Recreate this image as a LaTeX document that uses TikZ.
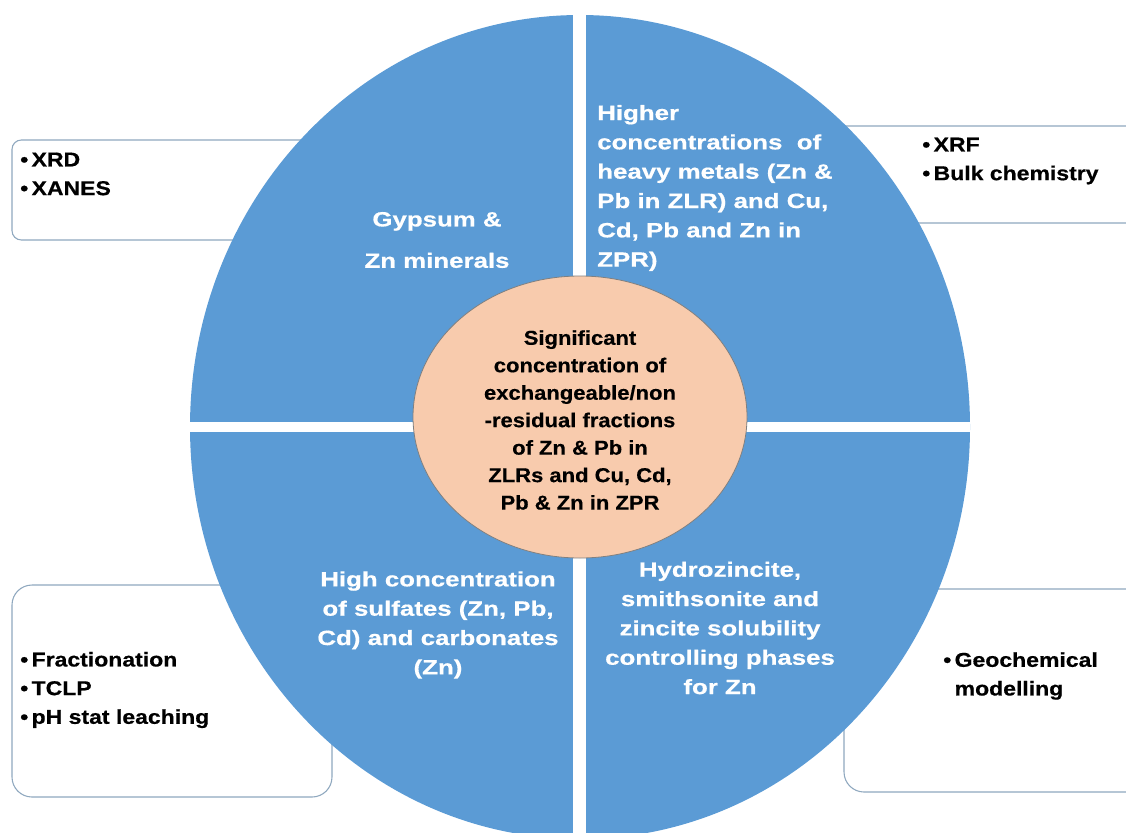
\documentclass[tikz,border=0pt]{standalone}
\usepackage{fontspec}
\setmainfont{Liberation Sans}
\newfontfamily\quadfont{Liberation Sans}[FakeStretch=1.25,FakeBold=0.6]
\newfontfamily\corefont{Liberation Sans}[FakeStretch=1.1,FakeBold=0.4]
\newfontfamily\toolfont{Liberation Sans}[FakeStretch=1.15,FakeBold=0.6]
\definecolor{disc}{HTML}{5B9BD5}
\definecolor{core}{HTML}{F8CBAD}
\definecolor{frame}{HTML}{8FA8BF}

\begin{document}
\begin{tikzpicture}[x=0.75pt,y=-0.75pt,
    tool/.style={draw=frame,fill=white,line width=0.8pt},
    quad/.style={text=white,font=\quadfont\bfseries\fontsize{15.5}{22}\selectfont,inner sep=0pt},
    method/.style={font=\toolfont\bfseries\fontsize{15}{21.5}\selectfont,align=left,anchor=west,inner sep=0pt},
]
\useasboundingbox (0,0) rectangle (1126,832);
\clip (0,0) rectangle (1126,832);

% method boxes behind the disc
\draw[tool,rounded corners=7pt] (12,140) rectangle (400,240);
\draw[tool,rounded corners=7pt] (760,126) rectangle (1150,223);
\draw[tool,rounded corners=15pt] (12,585) rectangle (332,797);
\draw[tool,rounded corners=15pt] (844,589) rectangle (1150,792);

% disc cut in four
\begin{scope}
\clip (580,427) ellipse [x radius=390, y radius=412];
\fill[disc] (0,0) rectangle (1126,860);
\fill[white] (573,0) rectangle (586,860);
\fill[white] (0,422) rectangle (1126,432);
\end{scope}
\filldraw[fill=core,draw=gray,line width=0.6pt] (580,417) ellipse [x radius=167, y radius=141];

\node[quad,align=center] (gypsum) at (437,240) {Gypsum \&\\[9pt]Zn minerals};
\node[quad,align=left,anchor=west] (metals) at (597,188)
  {Higher\\concentrations\ \ of\\heavy metals (Zn \&\\Pb in ZLR) and Cu,\\Cd, Pb and Zn in\\ZPR)};
\node[quad,align=center] (sulfates) at (438,625)
  {High concentration\\of sulfates (Zn, Pb,\\Cd) and carbonates\\(Zn)};
\node[quad,align=center] (phases) at (720,628)
  {Hydrozincite,\\smithsonite and\\zincite solubility\\controlling phases\\for Zn};

\node[align=center,inner sep=0pt,font=\corefont\bfseries\fontsize{15}{20.6}\selectfont] (core) at (580,420)
  {Significant\\concentration of\\exchangeable/non\\-residual fractions\\of Zn \& Pb in\\ZLRs and Cu, Cd,\\Pb \& Zn in ZPR};

\node[method] (xrd) at (20,174) {\textbullet\,XRD\\\textbullet\,XANES};
\node[method] (xrf) at (922,161) {\textbullet\,XRF\\\textbullet\,Bulk chemistry};
\node[method] (leach) at (20,690) {\textbullet\,Fractionation\\\textbullet\,TCLP\\\textbullet\,pH stat leaching};
\node[method] (model) at (943,676) {\textbullet\,Geochemical\\\hphantom{\textbullet\,}modelling};
\end{tikzpicture}
\end{document}
